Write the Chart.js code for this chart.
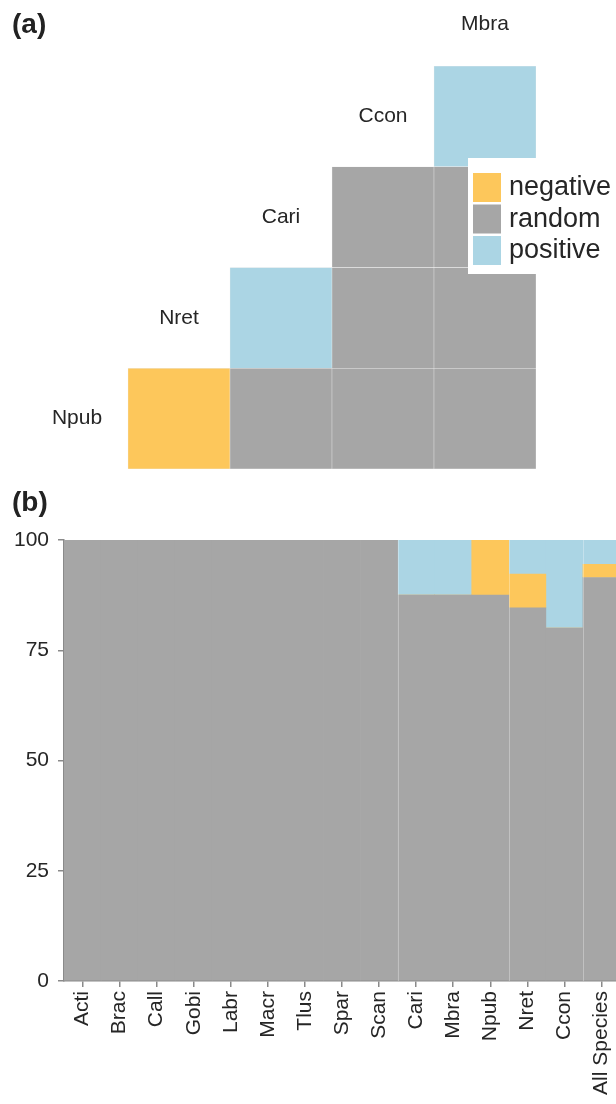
<!DOCTYPE html>
<html>
<head>
<meta charset="utf-8">
<script src="https://cdn.jsdelivr.net/npm/chart.js@4.4.1/dist/chart.umd.min.js"></script>
<style>
  body { margin: 0; background: #fff; font-family: 'Liberation Sans', Arial, sans-serif; }
  #page { position: relative; width: 616px; height: 1104px; overflow: hidden; }
  .panel { position: absolute; left: 12px; font-weight: bold; font-size: 28px; line-height: 28px; color: #222; }
  #chartA { position: absolute; left: 0; top: 0; }
  #chartB { position: absolute; left: 0; top: 480px; }
</style>
</head>
<body>
<div id="page">
  <canvas id="chartA" width="616" height="480"></canvas>
  <canvas id="chartB" width="640" height="624"></canvas>
  <div class="panel" style="top:10px">(a)</div>
  <div class="panel" style="top:488px">(b)</div>
</div>
<script>
// panel (a): pairwise associations, species along the diagonal
const speciesA = ['Npub', 'Nret', 'Cari', 'Ccon', 'Mbra']
const npubPairs = ['negative', 'random', 'random', 'random'] // vs Nret, Cari, Ccon, Mbra
const nretPairs = ['positive', 'random', 'random']           // vs Cari, Ccon, Mbra
const cariPairs = ['random', 'random']                       // vs Ccon, Mbra
const cconPairs = ['positive']                               // vs Mbra

// panel (b): % of associations per taxon
const categories = ['Acti', 'Brac', 'Call', 'Gobi', 'Labr', 'Macr', 'Tlus', 'Spar', 'Scan',
    'Cari', 'Mbra', 'Npub', 'Nret', 'Ccon', 'All Species']
const randomPct   = [100, 100, 100, 100, 100, 100, 100, 100, 100, 87.5, 87.5, 87.5, 84.6, 80, 91.5]
const negativePct = [0, 0, 0, 0, 0, 0, 0, 0, 0, 0, 0, 12.5, 7.7, 0, 3.0]
const positivePct = [0, 0, 0, 0, 0, 0, 0, 0, 0, 12.5, 12.5, 0, 7.7, 20, 5.5]
const groupEnds = [8, 11, 13]
const yTicks = [0, 25, 50, 75, 100]

const relations = ['negative', 'random', 'positive']
const ORANGE = '#FDC75B'
const GRAY = '#A6A6A6'
const BLUE = '#ABD5E4'
const TEXT = '#262626'
const AXIS = '#8a8a8a'
const FONT = '"Liberation Sans", Arial, sans-serif'
const relationColors = { negative: ORANGE, random: GRAY, positive: BLUE }

Chart.defaults.font.family = FONT

// ---------- panel (a) ----------
const pairRows = [npubPairs, nretPairs, cariPairs, cconPairs]
const datasetsA = pairRows.map((pairs, k) => ({
    label: speciesA[k],
    data: speciesA.map((_, c) => c > k ? 1 : null),
    backgroundColor: speciesA.map((_, c) => c > k ? relationColors[pairs[c - k - 1]] : 'transparent'),
    borderColor: '#ececec',
    borderWidth: 0.5,
    borderSkipped: false
}))

const matrixLabels = {
    id: 'matrixLabels',
    afterDraw(chart) {
        const { ctx, scales: { x, y } } = chart
        ctx.save()
        ctx.font = '21px ' + FONT
        ctx.fillStyle = TEXT
        ctx.textAlign = 'center'
        ctx.textBaseline = 'middle'
        speciesA.forEach((name, i) => {
            ctx.fillText(name, x.getPixelForValue(i), Math.max(y.getPixelForValue(i + 0.5), 24))
        })

        // legend box over the top-right cells
        ctx.fillStyle = '#fff'
        ctx.fillRect(468, 158, 160, 116)
        ctx.font = '27px ' + FONT
        ctx.textAlign = 'left'
        relations.forEach((rel, i) => {
            const top = 173 + i * 31.5
            ctx.fillStyle = relationColors[rel]
            ctx.fillRect(473, top, 28, 29)
            ctx.fillStyle = TEXT
            ctx.fillText(rel, 509, top + 15)
        })
        ctx.restore()
    }
}

new Chart(document.getElementById('chartA'), {
    type: 'bar',
    data: { labels: speciesA, datasets: datasetsA },
    options: {
        responsive: false,
        animation: false,
        layout: { padding: { left: 26, right: 80, top: 66, bottom: 11 } },
        datasets: { bar: { barPercentage: 1, categoryPercentage: 1 } },
        plugins: { legend: { display: false }, tooltip: { enabled: false } },
        scales: {
            x: { stacked: true, display: false },
            y: { stacked: true, display: false, min: 0, max: 4 }
        }
    },
    plugins: [matrixLabels]
})

// ---------- panel (b) ----------
const groupLines = {
    id: 'groupLines',
    afterDatasetsDraw(chart) {
        const { ctx, chartArea, scales: { x } } = chart
        ctx.save()
        ctx.strokeStyle = 'rgba(255,255,255,0.3)'
        ctx.lineWidth = 1
        groupEnds.forEach(i => {
            const px = Math.round((x.getPixelForValue(i) + x.getPixelForValue(i + 1)) / 2) + 0.5
            ctx.beginPath()
            ctx.moveTo(px, chartArea.top)
            ctx.lineTo(px, chartArea.bottom)
            ctx.stroke()
        })
        ctx.restore()
    }
}

new Chart(document.getElementById('chartB'), {
    type: 'bar',
    data: {
        labels: categories,
        datasets: [
            { label: 'random', data: randomPct, backgroundColor: GRAY },
            { label: 'negative', data: negativePct, backgroundColor: ORANGE },
            { label: 'positive', data: positivePct, backgroundColor: BLUE }
        ]
    },
    options: {
        responsive: false,
        animation: false,
        layout: { padding: { left: 0, right: 20, top: 60, bottom: 0 } },
        datasets: { bar: { barPercentage: 1, categoryPercentage: 1, borderWidth: 0 } },
        plugins: { legend: { display: false }, tooltip: { enabled: false } },
        scales: {
            x: {
                stacked: true,
                grid: { offset: false, drawOnChartArea: false, tickLength: 6, color: AXIS, lineWidth: 1.5 },
                border: { color: AXIS, width: 1.5 },
                ticks: { autoSkip: false, minRotation: 90, maxRotation: 90, padding: 4, color: TEXT, font: { size: 21 } },
                afterFit: s => { s.height = 123 }
            },
            y: {
                stacked: true,
                min: 0,
                max: 100,
                afterBuildTicks: s => { s.ticks = yTicks.map(v => ({ value: v })) },
                grid: { drawOnChartArea: false, tickLength: 6, color: AXIS, lineWidth: 1.5 },
                border: { color: AXIS, width: 1.5 },
                ticks: { padding: 9, color: TEXT, font: { size: 21 } },
                afterFit: s => { s.width = 64 }
            }
        }
    },
    plugins: [groupLines]
})
</script>
</body>
</html>
